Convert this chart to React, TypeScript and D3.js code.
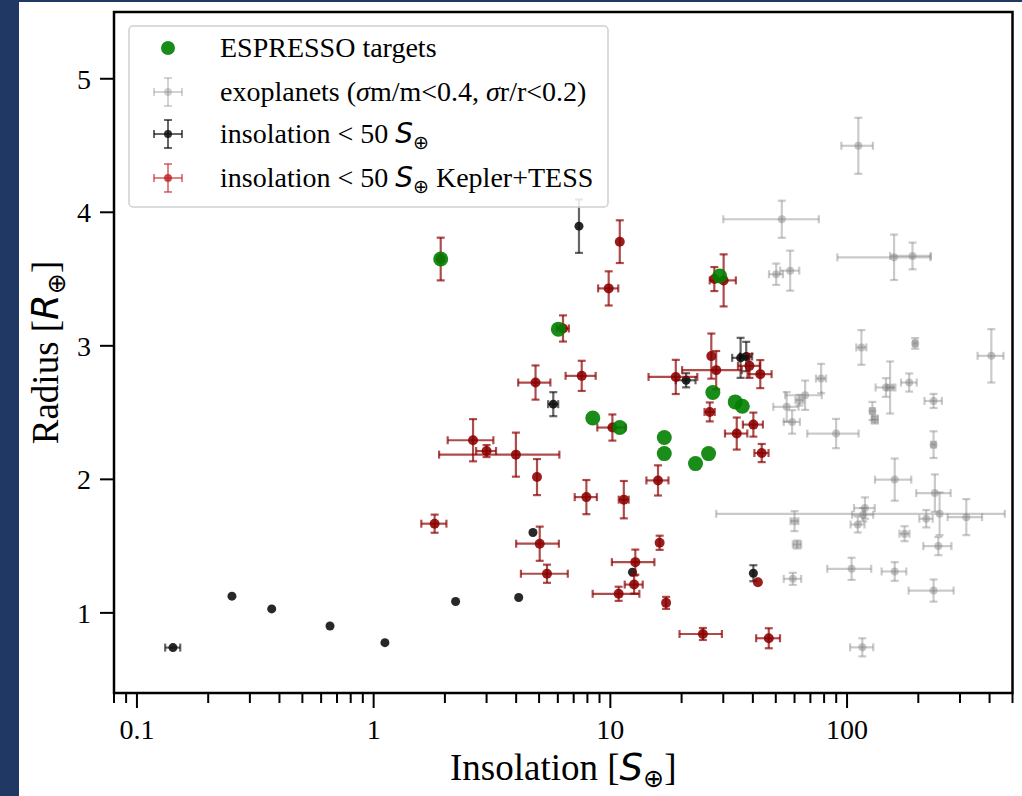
import React from "react";
import * as d3 from "d3";

// ESPRESSO targets
const espressoS = [1.92, 6.03, 8.43, 10.96, 16.9, 16.9, 22.9, 26.0, 27.1, 33.7, 36.1, 28.97];
const espressoR = [3.65, 3.125, 2.46, 2.388, 2.313, 2.193, 2.118, 2.193, 2.65, 2.58, 2.548, 3.523];

// exoplanets (gray)
const exoS = [53, 158, 189, 50.2, 57.5, 115, 194, 407, 77.7, 66.5, 63, 55.6, 58.6, 89.9, 146, 152, 183, 128, 131, 232, 232, 159, 235, 60, 61.5, 59, 246, 119, 117, 111, 216, 319, 175, 243, 104.5, 159, 232, 116, 111.6];
const exoR = [3.948, 3.663, 3.673, 3.536, 3.563, 2.988, 3.018, 2.925, 2.755, 2.63, 2.593, 2.543, 2.43, 2.343, 2.688, 2.688, 2.725, 2.512, 2.448, 2.587, 2.26, 1.998, 1.897, 1.687, 1.512, 1.255, 1.742, 1.785, 1.735, 1.662, 1.705, 1.717, 1.593, 1.5, 1.33, 1.31, 1.167, 0.742, 4.498];
const exoSErr = [23, 67, 37, 3.4, 5.3, 5.6, 4, 51, 3.8, 11.7, 2.5, 6.8, 4.6, 22, 14, 5, 14, 3, 4, 19.6, 5, 27.8, 39, 2.3, 2.5, 5, 218, 12, 12, 7.5, 14, 53, 8.5, 33, 22, 19, 50, 13, 17];
const exoRErr = [0.139, 0.17, 0.1, 0.08, 0.15, 0.13, 0.04, 0.2, 0.11, 0.11, 0.04, 0.11, 0.088, 0.11, 0.07, 0.195, 0.068, 0.068, 0.03, 0.053, 0.1, 0.158, 0.14, 0.075, 0.03, 0.045, 0.16, 0.08, 0.05, 0.06, 0.065, 0.135, 0.056, 0.068, 0.083, 0.07, 0.083, 0.068, 0.21];

// insolation < 50 (black)
const lowS = [0.142, 0.252, 0.371, 0.654, 1.116, 2.22, 4.1, 4.71, 5.74, 7.37, 12.4, 20.9, 35.5, 37.5, 40.2];
const lowR = [0.74, 1.125, 1.03, 0.902, 0.777, 1.085, 1.115, 1.602, 2.563, 3.896, 1.305, 2.742, 2.91, 2.92, 1.297];
const lowSErr = [0.0104, 0, 0, 0, 0, 0, 0, 0, 0.28, 0, 0, 2.0, 2.8, 2.2, 0];
const lowRErr = [0, 0, 0, 0, 0, 0, 0, 0, 0.09, 0.2, 0, 0.053, 0.15, 0.11, 0.06];

// insolation < 50 Kepler+TESS (red)
const ktS = [1.92, 10.96, 9.84, 6.31, 4.83, 7.57, 18.9, 2.63, 3.0, 3.99, 4.9, 7.92, 11.4, 15.9, 1.81, 5.03, 5.4, 16.15, 12.75, 12.6, 10.84, 17.2, 42.0, 24.6, 46.7, 10.2, 26.7, 28.0, 38.7, 43.0, 26.3, 34.2, 40.2, 43.6, 27.5, 30.1];
const ktR = [3.65, 3.78, 3.43, 3.13, 2.725, 2.775, 2.767, 2.293, 2.212, 2.185, 2.017, 1.867, 1.848, 1.992, 1.668, 1.518, 1.293, 1.525, 1.38, 1.212, 1.143, 1.075, 1.23, 0.842, 0.81, 2.388, 2.923, 2.818, 2.85, 2.788, 2.505, 2.343, 2.41, 2.197, 3.5, 3.49];
const ktSErr = [0, 0, 0.96, 0.37, 0.75, 1.1, 4.4, 0.575, 0.29, 2.1, 0, 0.85, 0.55, 1.7, 0.22, 1.03, 1.21, 0, 2.6, 1.1, 2.42, 0, 0, 5.0, 5.4, 1.39, 0, 7.9, 4.1, 5.0, 1.3, 3.7, 3.9, 3.0, 0, 3.8];
const ktRErr = [0.16, 0.16, 0.128, 0.098, 0.128, 0.113, 0.128, 0.158, 0.045, 0.165, 0.135, 0.128, 0.14, 0.113, 0.068, 0.128, 0.068, 0.053, 0.094, 0.068, 0.053, 0.045, 0, 0.045, 0.075, 0.098, 0.169, 0.143, 0.09, 0.105, 0.071, 0.12, 0.09, 0.068, 0.09, 0.195];

const xMajorTicks = [0.1, 1, 10, 100];
const xTickLabels = ["0.1", "1", "10", "100"];
const yTicks = [1, 2, 3, 4, 5];

const W = 1022;
const H = 796;
const L = 114, R = 1012.5, T = 12, B = 693;
const SERIF = "'Liberation Serif', 'Times New Roman', serif";
const SANS = "'DejaVu Sans', sans-serif";

const x = d3.scaleLog().domain([0.08, 500]).range([L, R]);
const y = d3.scaleLinear().domain([0.4, 5.5]).range([B, T]);

type Style = { bar: string; barOp: number; fill: string; fillOp: number; r: number };

function ErrSeries({ S, Rv, SE, RE, st }: { S: number[]; Rv: number[]; SE: number[]; RE: number[]; st: Style }) {
  const cap = 4;
  return (
    <g>
      {S.map((s, i) => {
        const cx = x(s);
        const cy = y(Rv[i]);
        const xe = SE[i];
        const ye = RE[i];
        const parts: any[] = [];
        if (xe > 0) {
          const x0 = x(Math.max(s - xe, 0.01));
          const x1 = x(s + xe);
          parts.push(<line key="h" x1={x0} x2={x1} y1={cy} y2={cy} />);
          parts.push(<line key="hc0" x1={x0} x2={x0} y1={cy - cap} y2={cy + cap} />);
          parts.push(<line key="hc1" x1={x1} x2={x1} y1={cy - cap} y2={cy + cap} />);
        }
        if (ye > 0) {
          const y0 = y(Rv[i] - ye);
          const y1 = y(Rv[i] + ye);
          parts.push(<line key="v" x1={cx} x2={cx} y1={y0} y2={y1} />);
          parts.push(<line key="vc0" x1={cx - cap} x2={cx + cap} y1={y0} y2={y0} />);
          parts.push(<line key="vc1" x1={cx - cap} x2={cx + cap} y1={y1} y2={y1} />);
        }
        return (
          <g key={i}>
            <g stroke={st.bar} strokeOpacity={st.barOp} strokeWidth={2.2}>{parts}</g>
            <circle cx={cx} cy={cy} r={st.r} fill={st.fill} fillOpacity={st.fillOp} />
          </g>
        );
      })}
    </g>
  );
}

const grayStyle: Style = { bar: "#808080", barOp: 0.42, fill: "#808080", fillOp: 0.45, r: 4 };
const blackStyle: Style = { bar: "#000000", barOp: 0.6, fill: "#111111", fillOp: 0.9, r: 4.5 };
const redStyle: Style = { bar: "#8b0000", barOp: 0.7, fill: "#8b0000", fillOp: 0.88, r: 5 };

function LegendIcon({ cx, cy, bar, barOp, fill, fillOp }: { cx: number; cy: number; bar: string; barOp: number; fill: string; fillOp: number }) {
  const hw = 14, cap = 4;
  return (
    <g>
      <g stroke={bar} strokeOpacity={barOp} strokeWidth={2}>
        <line x1={cx - hw} x2={cx + hw} y1={cy} y2={cy} />
        <line x1={cx - hw} x2={cx - hw} y1={cy - cap} y2={cy + cap} />
        <line x1={cx + hw} x2={cx + hw} y1={cy - cap} y2={cy + cap} />
        <line x1={cx} x2={cx} y1={cy - hw} y2={cy + hw} />
        <line x1={cx - cap} x2={cx + cap} y1={cy - hw} y2={cy - hw} />
        <line x1={cx - cap} x2={cx + cap} y1={cy + hw} y2={cy + hw} />
      </g>
      <circle cx={cx} cy={cy} r={4} fill={fill} fillOpacity={fillOp} />
    </g>
  );
}

function EarthSym({ letter, size, after }: { letter: string; size: number; after: string }) {
  const d = size * 0.2;
  return (
    <>
      <tspan fontFamily={SANS} fontStyle="italic">{letter}</tspan>
      <tspan fontFamily={SANS} fontSize={size * 0.68} dy={d}>⊕</tspan>
      <tspan dy={-d}>{after}</tspan>
    </>
  );
}

export default function App() {
  const minorTicks: number[] = [];
  for (let e = -2; e <= 2; e++) {
    for (let k = 2; k <= 9; k++) {
      const v = k * Math.pow(10, e);
      if (v >= 0.08 && v <= 500.001) minorTicks.push(v);
    }
  }
  const legX = 168;
  const legRows = [48, 92, 134, 178];
  const legFont = 28;
  const titleFont = 37;
  return (
    <div style={{ position: "fixed", left: 0, top: 0, width: W, height: H, background: "#fff" }}>
      <svg width={W} height={H} style={{ display: "block" }}>
        <rect x={0} y={0} width={W} height={H} fill="#ffffff" />
        <rect x={0} y={0} width={19} height={H} fill="#1f3864" />
        <rect x={0} y={0} width={W} height={2} fill="#1f3864" />

        {/* data */}
        <ErrSeries S={exoS} Rv={exoR} SE={exoSErr} RE={exoRErr} st={grayStyle} />
        <ErrSeries S={lowS} Rv={lowR} SE={lowSErr} RE={lowRErr} st={blackStyle} />
        <ErrSeries S={ktS} Rv={ktR} SE={ktSErr} RE={ktRErr} st={redStyle} />
        <g>
          {espressoS.map((s, i) => (
            <circle key={i} cx={x(s)} cy={y(espressoR[i])} r={7.5} fill="#008000" fillOpacity={0.9} />
          ))}
        </g>

        {/* frame */}
        <rect x={L} y={T} width={R - L} height={B - T} fill="none" stroke="#000" strokeWidth={2.5} />

        {/* ticks */}
        <g stroke="#000" strokeWidth={2}>
          {xMajorTicks.map((v) => (
            <line key={"M" + v} x1={x(v)} x2={x(v)} y1={B} y2={B + 15} />
          ))}
          {minorTicks.map((v) => (
            <line key={"m" + v} x1={x(v)} x2={x(v)} y1={B} y2={B + 10} />
          ))}
          {yTicks.map((v) => (
            <line key={"y" + v} x1={L - 14} x2={L} y1={y(v)} y2={y(v)} />
          ))}
        </g>
        <g fontFamily={SERIF} fontSize={28} fill="#000">
          {xMajorTicks.map((v, i) => (
            <text key={v} x={x(v)} y={739} textAnchor="middle">{xTickLabels[i]}</text>
          ))}
          {yTicks.map((v) => (
            <text key={v} x={91} y={y(v) + 10} textAnchor="end">{v}</text>
          ))}
        </g>

        {/* axis titles */}
        <text x={(L + R) / 2} y={780} textAnchor="middle" fontFamily={SERIF} fontSize={titleFont}>
          Insolation [<EarthSym letter="S" size={titleFont} after="]" />
        </text>
        <text transform={`translate(58, ${(T + B) / 2}) rotate(-90)`} textAnchor="middle" fontFamily={SERIF} fontSize={titleFont}>
          Radius [<EarthSym letter="R" size={titleFont} after="]" />
        </text>

        {/* legend */}
        <rect x={129} y={26} width={479} height={181} rx={4} fill="#fff" fillOpacity={0.85} stroke="#d0d0d0" strokeWidth={1.5} />
        <circle cx={legX} cy={legRows[0]} r={7} fill="#008000" fillOpacity={0.9} />
        <LegendIcon cx={legX} cy={legRows[1]} bar="#808080" barOp={0.35} fill="#808080" fillOp={0.35} />
        <LegendIcon cx={legX} cy={legRows[2]} bar="#000" barOp={0.6} fill="#111" fillOp={0.85} />
        <LegendIcon cx={legX} cy={legRows[3]} bar="#c02020" barOp={0.55} fill="#c02020" fillOp={0.8} />
        <g fontFamily={SERIF} fontSize={legFont} fill="#000">
          <text x={220} y={legRows[0] + 9}>ESPRESSO targets</text>
          <text x={220} y={legRows[1] + 9}>
            exoplanets (<tspan fontStyle="italic">σ</tspan>m/m&lt;0.4, <tspan fontStyle="italic">σ</tspan>r/r&lt;0.2)
          </text>
          <text x={220} y={legRows[2] + 9}>
            insolation &lt; 50 <EarthSym letter="S" size={legFont} after="" />
          </text>
          <text x={220} y={legRows[3] + 9}>
            insolation &lt; 50 <EarthSym letter="S" size={legFont} after=" Kepler+TESS" />
          </text>
        </g>
      </svg>
    </div>
  );
}
